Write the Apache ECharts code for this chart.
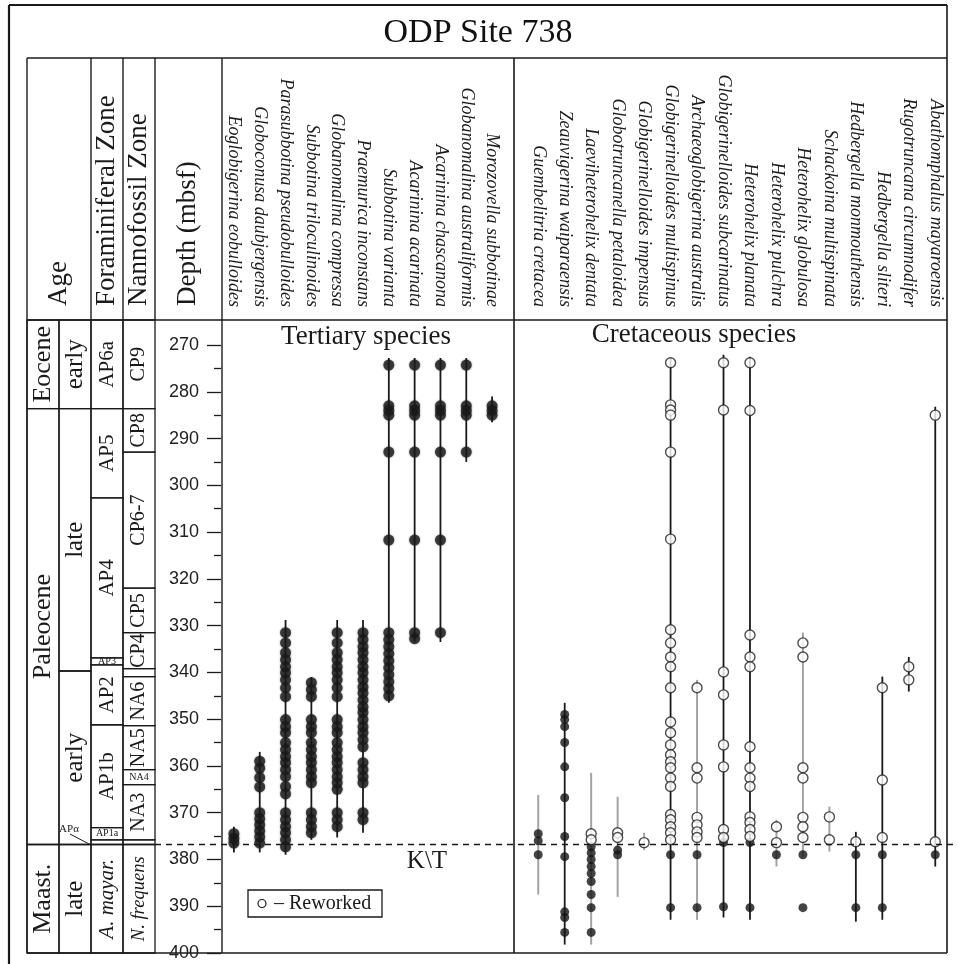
<!DOCTYPE html>
<html>
<head>
<meta charset="utf-8">
<title>ODP Site 738</title>
<script src="https://cdn.jsdelivr.net/npm/echarts@6/dist/echarts.min.js"></script>
<style>
  html, body { margin: 0; padding: 0; background: #fff; }
  #chart { width: 958px; height: 964px; }
</style>
</head>
<body>
<div id="chart"></div>
<script>
// depth axis (mbsf)
const depthMin = 270
const depthMax = 400
const depthStep = 10
const ktDepth = 376.8

// stratigraphy: [label, top depth (null = top of column), bottom depth]
const epochs = [['Eocene', null, 283.6], ['Paleocene', 283.6, 376.8], ['Maast.', 376.8, 400]]
const subepochs = [['early', null, 283.6], ['late', 283.6, 339.7], ['early', 339.7, 376.8], ['late', 376.8, 400]]
const foramZones = [
  ['AP6a', null, 283.6], ['AP5', 283.6, 302.7], ['AP4', 302.7, 336.9], ['AP3', 336.9, 338.4],
  ['AP2', 338.4, 351.2], ['AP1b', 351.2, 373.2], ['AP1a', 373.2, 375.8], ['', 375.8, 376.8],
  ['A. mayar.', 376.8, 400]
]
const nannoZones = [
  ['CP9', null, 283.6], ['CP8', 283.6, 292.9], ['CP6-7', 292.9, 322], ['CP5', 322, 331.5],
  ['CP4', 331.5, 339.2], ['', 339.2, 340.9], ['NA6', 340.9, 351.4], ['NA5', 351.4, 360.8],
  ['NA4', 360.8, 364], ['NA3', 364, 375.8], ['', 375.8, 376.8], ['N. frequens', 376.8, 400]
]

// Tertiary species
const tertiarySpecies = [
  'Eoglobigerina eobulloides', 'Globoconusa daubjergensis', 'Parasubbotina pseudobulloides',
  'Subbotina triloculinoides', 'Globanomalina compressa', 'Praemurica inconstans',
  'Subbotina varianta', 'Acarinina acarinata', 'Acarinina chascanona',
  'Globanomalina australiformis', 'Morozovella subbotinae'
]
const tertiaryRanges = [
  [373, 378.5], [357, 378.5], [328.8, 379], [341, 375.8], [328.8, 375.3], [328.8, 374.3],
  [272.8, 346.5], [272.8, 333.5], [272.8, 333.5], [272.8, 295], [281, 286.5]
]
const tertiaryFound = [
  [374.5, 375.5, 376.5],
  [359, 360.5, 362.5, 364.5, 370, 371.3, 372.6, 373.9, 375.2, 376.5],
  [331.5, 333.7, 335.8, 337.3, 338.8, 340.1, 341.6, 343.3, 345.2, 350.1, 351.6, 352.9, 355, 356.5,
    358, 359.3, 360.8, 362.3, 364.4, 366, 370, 371.5, 373, 374.3, 375.8, 377.3],
  [342.2, 343.7, 345.2, 350.1, 351.6, 352.9, 355, 356.5, 358, 359.3, 360.8, 362.3, 363.6,
    370, 371.5, 373, 374.3],
  [331.5, 333.7, 335.8, 337.3, 338.8, 340.1, 341.6, 343.3, 345.2, 350.1, 351.6, 352.9, 355, 356.5,
    358, 359.3, 360.8, 362.3, 363.6, 365, 370, 371.5, 373],
  [331.5, 333, 334.5, 335.8, 337.3, 338.8, 340.1, 341.6, 343.1, 344.4, 345.9, 347.4, 348.6, 350.1,
    351.6, 352.9, 354.4, 355.9, 359.3, 360.8, 362.3, 363.6, 370, 371.5],
  [274.3, 283, 284, 285, 292.9, 311.7, 331.5, 333, 334.5, 336, 337.5, 339, 340.5, 342, 343.5, 345],
  [274.3, 283, 284, 285, 292.9, 311.7, 331.5, 332.8],
  [274.3, 283, 284, 285, 292.9, 311.7, 331.5],
  [274.3, 283, 284, 285, 292.9],
  [283, 284, 285]
]

// Cretaceous species
const cretaceousSpecies = [
  'Guembelitria cretacea', 'Zeauvigerina waiparaensis', 'Laeviheterohelix dentata',
  'Globotruncanella petaloidea', 'Globigerinelloides impensus', 'Globigerinelloides multispinus',
  'Archaeoglobigerina australis', 'Globigerinelloides subcarinatus', 'Heterohelix planata',
  'Heterohelix pulchra', 'Heterohelix globulosa', 'Schackoina multispinata',
  'Hedbergella monmouthensis', 'Hedbergella sliteri', 'Rugotruncana circumnodifer',
  'Abathomphalus mayaroensis'
]
const cretaceousRanges = [
  [366.2, 387.5], [346.5, 398.2], [361.5, 398.2], [366.6, 388], [374.3, 378], [272.8, 392.9],
  [341.6, 392.9], [272.1, 392.4], [272.5, 392.9], [371.5, 381.5], [331.5, 379.4], [368.7, 378.3],
  [374.1, 393.3], [340.9, 392.9], [336.7, 344.1], [283.2, 381.5]
]
// sporadic ranges are printed in grey
const cretaceousSporadic = [true, false, true, true, true, false, true, false, false, true, true, true, false, false, false, false]
const cretaceousFound = [
  [374.5, 376, 379],
  [349, 350.1, 351.6, 355, 360.2, 366.8, 375.1, 379.4, 391.2, 392.4, 395.6],
  [377.3, 378.6, 380, 381.5, 383, 384.7, 387.5, 390.3, 395.6],
  [378, 379],
  [],
  [379, 390.3],
  [379, 390.3],
  [376.4, 390.1],
  [376.4, 390.3],
  [379],
  [379, 390.3],
  [],
  [379, 390.3],
  [379, 390.3],
  [],
  [379]
]
const cretaceousReworked = [
  [],
  [],
  [374.5, 375.8],
  [374.3, 375.3],
  [376.4],
  [273.8, 282.8, 283.9, 285, 292.9, 311.5, 330.9, 333.7, 336.7, 338.8, 343.3, 350.6, 352.9, 355.5,
    357.6, 359.1, 360.4, 362.6, 364.4, 370.4, 371.5, 373, 374.3, 375.8],
  [343.3, 360.4, 362.6, 371, 372.6, 374.1, 375.3],
  [273.8, 283.9, 339.9, 344.8, 355.5, 360.2, 373.6, 375.3],
  [273.8, 284, 332, 336.7, 338.8, 355.9, 360.4, 362.6, 364.4, 370.9, 372.1, 373.6, 375.1],
  [373, 376.4],
  [333.7, 336.7, 360.4, 362.6, 371, 373, 375.3],
  [370.9, 375.8],
  [376.2],
  [343.3, 363, 375.3],
  [338.8, 341.6],
  [285, 376.2]
]

const INK = '#1a1a1a'
const SERIF = '"Liberation Serif", "Times New Roman", serif'
const HEADER_Y = 320

const zoneItems = []
;[epochs, subepochs, foramZones, nannoZones].forEach((col, c) => {
  col.forEach(z => zoneItems.push({ col: c, name: z[0], top: z[1], bottom: z[2] }))
})
const colFont = [26, 25, 21, 20]

function points(lists) {
  const out = []
  lists.forEach((l, i) => l.forEach(d => out.push([i, d])))
  return out
}

function renderZone(params, api) {
  const z = zoneItems[params.dataIndex]
  const y0 = z.top == null ? HEADER_Y : api.coord([0, z.top])[1]
  const y1 = api.coord([0, z.bottom])[1]
  const x0 = api.coord([z.col, depthMin])[0]
  const x1 = api.coord([z.col + 1, depthMin])[0]
  const h = y1 - y0
  const children = [{
    type: 'rect',
    shape: { x: x0, y: y0, width: x1 - x0, height: h },
    style: { fill: 'none', stroke: INK, lineWidth: 1.3 }
  }]
  if (z.name) {
    const italic = /^[A-Z]\. /.test(z.name)
    const horizontal = h < 20
    let fs = horizontal ? 10 : Math.min(colFont[z.col], (h - 6) / (z.name.length * 0.5))
    children.push({
      type: 'text',
      x: (x0 + x1) / 2,
      y: (y0 + y1) / 2,
      rotation: horizontal ? 0 : Math.PI / 2,
      style: {
        text: z.name,
        font: (italic ? 'italic ' : '') + fs.toFixed(1) + 'px ' + SERIF,
        fill: INK,
        align: 'center',
        verticalAlign: 'middle'
      }
    })
  }
  return { type: 'group', children: children }
}

function rangeRenderer(sporadic) {
  return function (params, api) {
    const i = api.value(0)
    const p0 = api.coord([i, api.value(1)])
    const p1 = api.coord([i, api.value(2)])
    const grey = sporadic && sporadic[params.dataIndex]
    return {
      type: 'line',
      shape: { x1: p0[0], y1: p0[1], x2: p1[0], y2: p1[1] },
      style: { stroke: grey ? '#a3a3a3' : INK, lineWidth: grey ? 2 : 1.8 }
    }
  }
}

const yBase = { type: 'value', inverse: true, min: depthMin, max: depthMax, interval: depthStep, show: false }
const speciesLabel = {
  interval: 0, rotate: 90, margin: 38,
  fontFamily: SERIF, fontStyle: 'italic', fontSize: 18, color: INK
}

const chart = echarts.init(document.getElementById('chart'))

function hline(x1, x2, y, w) {
  return { type: 'line', shape: { x1: x1, y1: y, x2: x2, y2: y }, style: { stroke: INK, lineWidth: w || 1.4 } }
}
function vline(x, y1, y2, w) {
  return { type: 'line', shape: { x1: x, y1: y1, x2: x, y2: y2 }, style: { stroke: INK, lineWidth: w || 1.4 } }
}
function vtext(text, x, y, size) {
  return {
    type: 'text', x: x, y: y, rotation: Math.PI / 2,
    style: { text: text, font: size + 'px ' + SERIF, fill: INK, align: 'left', verticalAlign: 'middle' }
  }
}

chart.setOption({
  animation: false,
  backgroundColor: '#fff',
  grid: [
    { left: 27, width: 128, top: 345, height: 608, outerBoundsMode: 'none' },
    { left: 221, width: 284, top: 345, height: 608, outerBoundsMode: 'none' },
    { left: 525, width: 423.5, top: 345, height: 608, outerBoundsMode: 'none' }
  ],
  xAxis: [
    { type: 'value', gridIndex: 0, min: 0, max: 4, show: false },
    {
      type: 'category', gridIndex: 1, data: tertiarySpecies, position: 'top',
      axisLine: { show: false }, axisTick: { show: false }, splitLine: { show: false },
      axisLabel: speciesLabel
    },
    {
      type: 'category', gridIndex: 2, data: cretaceousSpecies, position: 'top',
      axisLine: { show: false }, axisTick: { show: false }, splitLine: { show: false },
      axisLabel: speciesLabel
    }
  ],
  yAxis: [
    Object.assign({ gridIndex: 0 }, yBase),
    Object.assign({}, yBase, {
      gridIndex: 1, show: true,
      axisLine: { show: false },
      axisTick: { show: true, length: 14, lineStyle: { color: INK, width: 1.3 } },
      minorTick: { show: true, splitNumber: 2, length: 7, lineStyle: { color: INK, width: 1.3 } },
      splitLine: { show: false },
      axisLabel: { margin: 22, fontSize: 18, fontFamily: '"Liberation Sans", Arial, sans-serif', color: '#222' }
    }),
    Object.assign({ gridIndex: 2 }, yBase)
  ],
  series: [
    {
      type: 'custom', xAxisIndex: 0, yAxisIndex: 0, silent: true,
      data: zoneItems.map(z => [z.col, z.top == null ? depthMin : z.top, z.bottom]),
      renderItem: renderZone
    },
    {
      type: 'custom', xAxisIndex: 0, yAxisIndex: 0, silent: true, z: 5,
      data: [[4, ktDepth]],
      renderItem: function (params, api) {
        const p = api.coord([api.value(0), api.value(1)])
        return {
          type: 'line',
          shape: { x1: p[0], y1: p[1], x2: api.getWidth(), y2: p[1] },
          style: { stroke: INK, lineWidth: 1.5, lineDash: [6, 5] }
        }
      }
    },
    {
      type: 'custom', xAxisIndex: 1, yAxisIndex: 1, silent: true,
      data: tertiaryRanges.map((r, i) => [i, r[0], r[1]]),
      renderItem: rangeRenderer(null)
    },
    {
      type: 'scatter', xAxisIndex: 1, yAxisIndex: 1, silent: true, z: 3,
      symbolSize: 11,
      itemStyle: { color: '#1c1c1c', shadowBlur: 2, shadowColor: 'rgba(0,0,0,0.5)' },
      data: points(tertiaryFound)
    },
    {
      type: 'custom', xAxisIndex: 2, yAxisIndex: 2, silent: true,
      data: cretaceousRanges.map((r, i) => [i, r[0], r[1]]),
      renderItem: rangeRenderer(cretaceousSporadic)
    },
    {
      type: 'scatter', xAxisIndex: 2, yAxisIndex: 2, silent: true, z: 3,
      symbolSize: 9,
      itemStyle: { color: '#151515' },
      data: points(cretaceousFound)
    },
    {
      type: 'scatter', xAxisIndex: 2, yAxisIndex: 2, silent: true, z: 4,
      symbolSize: 10,
      itemStyle: { color: '#fff', borderColor: '#222', borderWidth: 1.4 },
      data: points(cretaceousReworked)
    }
  ],
  graphic: [
    // frame
    vline(9, 5, 964, 2.2),
    hline(9, 947, 5, 2.2),
    vline(947, 5, 953, 1.6),
    hline(27, 947, 58, 1.4),
    vline(27, 58, 953, 1.4),
    hline(27, 947, 953, 1.6),
    hline(27, 947, HEADER_Y, 1.4),
    vline(91, 58, HEADER_Y),
    vline(123, 58, HEADER_Y),
    vline(155, 58, HEADER_Y),
    vline(222, 58, 953),
    vline(514, 58, 953, 1.6),
    // title
    {
      type: 'text', x: 478, y: 33,
      style: { text: 'ODP Site 738', font: '34px ' + SERIF, fill: '#111', align: 'center', verticalAlign: 'middle' }
    },
    // column headers
    vtext('Age', 59, 306, 27),
    vtext('Foraminiferal Zone', 107, 306, 27),
    vtext('Nannofossil Zone', 139, 306, 27),
    vtext('Depth (mbsf)', 188, 306, 27),
    {
      type: 'text', x: 366, y: 337,
      style: { text: 'Tertiary species', font: '27px ' + SERIF, fill: INK, align: 'center', verticalAlign: 'middle' }
    },
    {
      type: 'text', x: 694, y: 335,
      style: { text: 'Cretaceous species', font: '27px ' + SERIF, fill: INK, align: 'center', verticalAlign: 'middle' }
    },
    {
      type: 'text', x: 427, y: 861,
      style: { text: 'K\\T', font: '25px ' + SERIF, fill: INK, align: 'center', verticalAlign: 'middle' }
    },
    // APα leader
    {
      type: 'text', x: 69, y: 829,
      style: { text: 'APα', font: '11px ' + SERIF, fill: INK, align: 'center', verticalAlign: 'middle' }
    },
    { type: 'line', shape: { x1: 70, y1: 834, x2: 91, y2: 845 }, style: { stroke: INK, lineWidth: 1 } },
    // legend
    {
      type: 'rect', shape: { x: 248, y: 890, width: 134, height: 27 },
      style: { fill: '#fff', stroke: INK, lineWidth: 1.3 }
    },
    {
      type: 'circle', shape: { cx: 262, cy: 903.5, r: 4 },
      style: { fill: '#fff', stroke: INK, lineWidth: 1.2 }
    },
    {
      type: 'text', x: 274, y: 904,
      style: { text: '– Reworked', font: '20px ' + SERIF, fill: INK, align: 'left', verticalAlign: 'middle' }
    }
  ]
})
</script>
</body>
</html>
